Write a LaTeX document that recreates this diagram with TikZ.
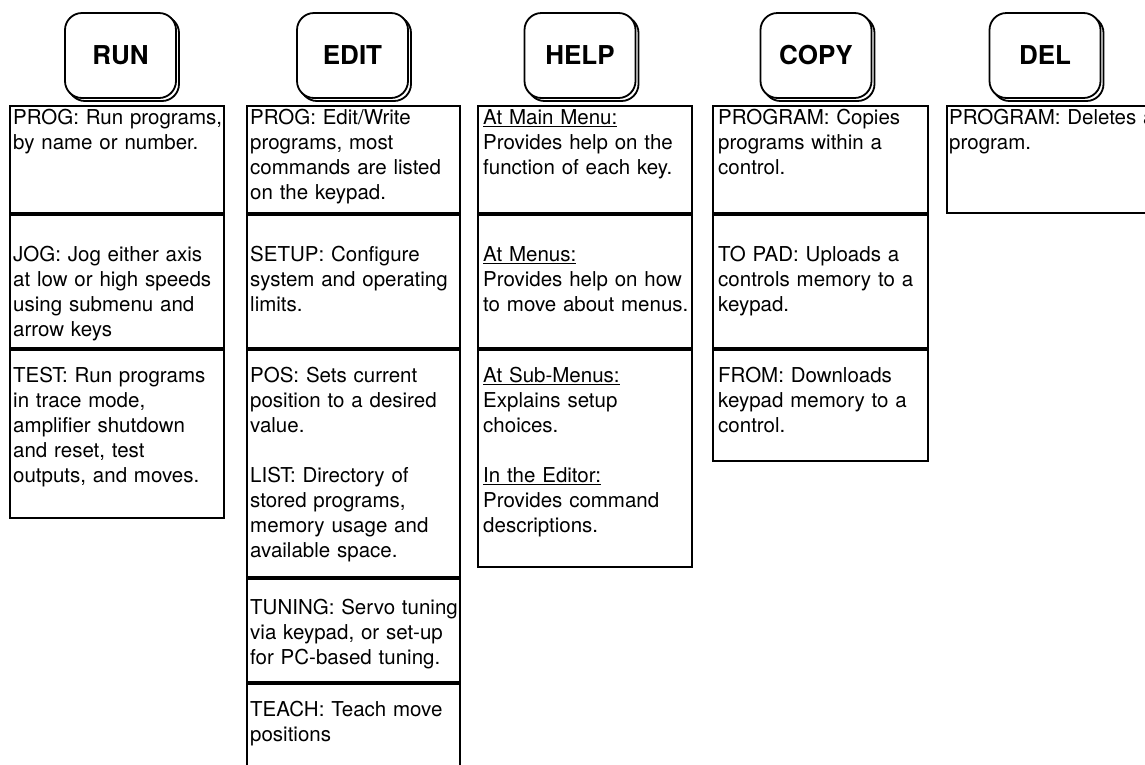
\documentclass[tikz,border=0pt]{standalone}
\usepackage{fontspec}
\setmainfont{TeX Gyre Heros}
\usetikzlibrary{shadows}
\tikzset{
  keybox/.style={draw, line width=1.8pt, fill=white, rounded corners=17pt,
    minimum width=111pt, minimum height=85pt, inner sep=0pt,
    font={\fontsize{26}{30}\selectfont\bfseries},
    copy shadow={shadow xshift=3pt, shadow yshift=-3pt}},
  colbox/.style={draw, line width=2pt},
  divider/.style={line width=3.5pt},
  desc/.style={anchor=base west, inner sep=0pt, text width=240pt, align=left,
    font={\fontsize{20.5}{25}\selectfont}}
}
\begin{document}
\begin{tikzpicture}[x=1pt,y=-1pt]
\useasboundingbox (0,0) rectangle (1145,764);
\clip (0,0) rectangle (1145,764);
\fill[white] (0,0) rectangle (1145,764);
% keys
\node[keybox] (krun)  at (120.5,55.5) {RUN};
\node[keybox] (kedit) at (352.5,55.5) {EDIT};
\node[keybox] (khelp) at (580,55.5)   {HELP};
\node[keybox] (kcopy) at (816,55.5)   {COPY};
\node[keybox] (kdel)  at (1045,55.5)  {DEL};
% RUN column
\draw[colbox] (10,106) rectangle (224,518);
\draw[divider] (10,214) -- (224,214);
\draw[divider] (10,349) -- (224,349);
\node[desc] (r1) at (13,124) {PROG: Run programs,\\by name or number.};
\node[desc] (r2) at (13,261) {JOG: Jog either axis\\at low or high speeds\\using submenu and\\arrow keys};
\node[desc] (r3) at (13,382) {TEST: Run programs\\in trace mode,\\amplifier shutdown\\and reset, test\\outputs, and moves.};
% EDIT column
\draw[colbox] (247,780) -- (247,106) -- (460,106) -- (460,780);
\draw[divider] (247,214) -- (460,214);
\draw[divider] (247,349) -- (460,349);
\draw[divider] (247,578) -- (460,578);
\draw[divider] (247,683) -- (460,683);
\node[desc] (e1) at (250,124) {PROG: Edit/Write\\programs, most\\commands are listed\\on the keypad.};
\node[desc] (e2) at (250,261) {SETUP: Configure\\system and operating\\limits.};
\node[desc] (e3) at (250,382) {POS: Sets current\\position to a desired\\value.\\[25pt]LIST: Directory of\\stored programs,\\memory usage and\\available space.};
\node[desc] (e4) at (250,614) {TUNING: Servo tuning\\via keypad, or set-up\\for PC-based tuning.};
\node[desc] (e5) at (250,716) {TEACH: Teach move\\positions};
% HELP column
\draw[colbox] (478,106) rectangle (692,567);
\draw[divider] (478,214) -- (692,214);
\draw[divider] (478,349) -- (692,349);
\node[desc] (h1) at (483,124) {\underline{At Main Menu:}\\Provides help on the\\function of each key.};
\node[desc] (h2) at (483,261) {\underline{At Menus:}\\Provides help on how\\to move about menus.};
\node[desc] (h3) at (483,382) {\underline{At Sub-Menus:}\\Explains setup\\choices.\\[25pt]\underline{In the Editor:}\\Provides command\\descriptions.};
% COPY column
\draw[colbox] (713,106) rectangle (928,461);
\draw[divider] (713,214) -- (928,214);
\draw[divider] (713,349) -- (928,349);
\node[desc] (c1) at (718,124) {PROGRAM: Copies\\programs within a\\control.};
\node[desc] (c2) at (718,261) {TO PAD: Uploads a\\controls memory to a\\keypad.};
\node[desc] (c3) at (718,382) {FROM: Downloads\\keypad memory to a\\control.};
% DEL column
\draw[colbox] (947,106) rectangle (1170,213);
\node[desc] (d1) at (949,124) {PROGRAM: Deletes a\\program.};
\end{tikzpicture}
\end{document}
